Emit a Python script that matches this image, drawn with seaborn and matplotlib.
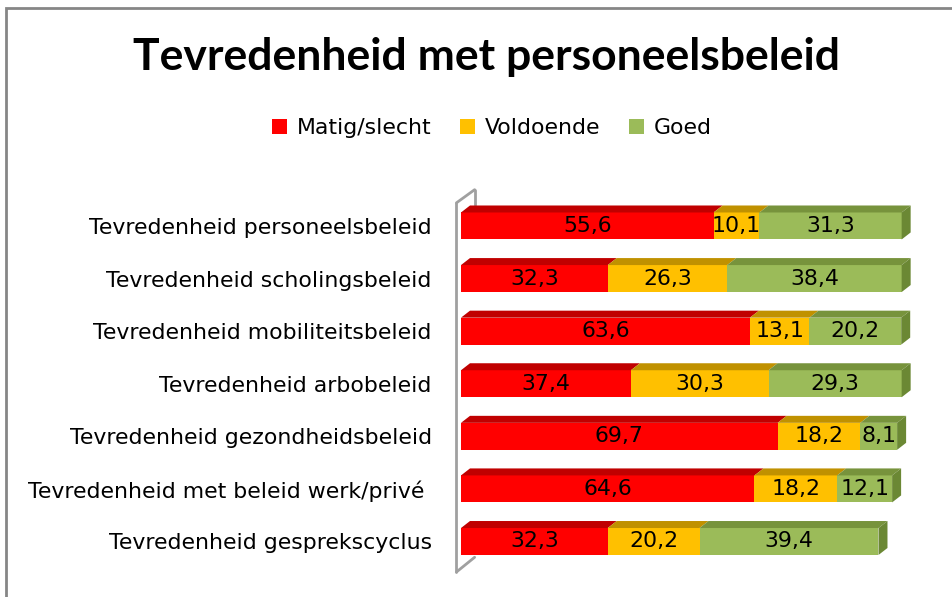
import numpy as np
import pandas as pd
import seaborn as sns
import matplotlib.pyplot as plt
from matplotlib.patches import Patch, Polygon, Rectangle

sns.set_theme(style="white")
plt.rcParams["font.family"] = ["DejaVu Sans"]
plt.rcParams["text.color"] = "black"

# data
categories = [
    "Tevredenheid personeelsbeleid",
    "Tevredenheid scholingsbeleid",
    "Tevredenheid mobiliteitsbeleid",
    "Tevredenheid arbobeleid",
    "Tevredenheid gezondheidsbeleid",
    "Tevredenheid met beleid werk/privé ",
    "Tevredenheid gesprekscyclus",
]
matig = [55.6, 32.3, 63.6, 37.4, 69.7, 64.6, 32.3]
voldoende = [10.1, 26.3, 13.1, 30.3, 18.2, 18.2, 20.2]
goed = [31.3, 38.4, 20.2, 29.3, 8.1, 12.1, 39.4]
series = ["Matig/slecht", "Voldoende", "Goed"]

front = ["#FF0000", "#FFC000", "#9BBB59"]
top = ["#C00000", "#C09100", "#77933C"]
side = "#6B8834"

df = pd.DataFrame({"cat": categories, "Matig/slecht": matig,
                   "Voldoende": voldoende, "Goed": goed})
df["c1"] = df["Matig/slecht"]
df["c2"] = df["c1"] + df["Voldoende"]
df["c3"] = df["c2"] + df["Goed"]

fig = plt.figure(figsize=(9.52, 5.97), dpi=100)
ax = fig.add_axes([461 / 952, 1 - 572 / 597, 477 / 952, 382 / 597])

bh = 0.513
# stacked by overlapping cumulative sums, longest first
for col, c in zip(["c3", "c2", "c1"], front[::-1]):
    sns.barplot(data=df, x=col, y="cat", orient="h", color=c, width=bh,
                saturation=1, ax=ax, linewidth=0, order=categories, zorder=2)

ax.set_xlim(0, 105)
ax.set_ylim(6.58, -0.684)

dx, dy = 1.98, 0.133
for i in range(len(categories)):
    y0 = i - bh / 2
    y1 = i + bh / 2
    lefts = [0, df["c1"][i], df["c2"][i]]
    rights = [df["c1"][i], df["c2"][i], df["c3"][i]]
    for l, r, c in zip(lefts, rights, top):
        ax.add_patch(Polygon([(l, y0), (r, y0), (r + dx, y0 - dy), (l + dx, y0 - dy)],
                             closed=True, facecolor=c, edgecolor="none", zorder=3))
    r = rights[-1]
    ax.add_patch(Polygon([(r, y0), (r, y1), (r + dx, y1 - dy), (r + dx, y0 - dy)],
                         closed=True, facecolor=side, edgecolor="none", zorder=3))
    for l, r, v in zip(lefts, rights, [matig[i], voldoende[i], goed[i]]):
        ax.text((l + r) / 2, i, f"{v:.1f}".replace(".", ","), ha="center",
                va="center", fontsize=15.8, color="black", zorder=4)

# 3d wall at the value axis
wall = dict(color="#A0A0A0", lw=2, zorder=1, clip_on=False)
ax.plot([-1.0, -1.0], [-0.44, 6.58], **wall)
ax.plot([-1.0, 3.0], [-0.44, -0.69], **wall)
ax.plot([3.0, 3.0], [-0.69, -0.4], **wall)
ax.plot([-1.0, 3.0], [6.58, 6.3], **wall)

for s in ax.spines.values():
    s.set_visible(False)
ax.set_xticks([])
ax.set_xlabel("")
ax.set_ylabel("")
ax.tick_params(axis="y", length=0, pad=21, labelsize=15.8)
for t in ax.get_yticklabels():
    t.set_color("black")

fig.text(487 / 952, 1 - 57 / 597, "Tevredenheid met personeelsbeleid",
         ha="center", va="center", fontsize=32, fontweight="bold",
         family=["Lato", "DejaVu Sans"])

handles = [Patch(facecolor=c, edgecolor="none") for c in front]
fig.legend(handles, series, loc="center", bbox_to_anchor=(492 / 952, 1 - 128 / 597),
           ncol=3, frameon=False, fontsize=15.8, handlelength=0.68, handleheight=0.68,
           handletextpad=0.45, columnspacing=1.3)

fig.add_artist(Rectangle((6 / 952, -0.1), 1.2, 1 - 8 / 597 + 0.1,
                         transform=fig.transFigure, fill=False,
                         edgecolor="#868686", lw=2))

fig.savefig("out.png", dpi=100)
